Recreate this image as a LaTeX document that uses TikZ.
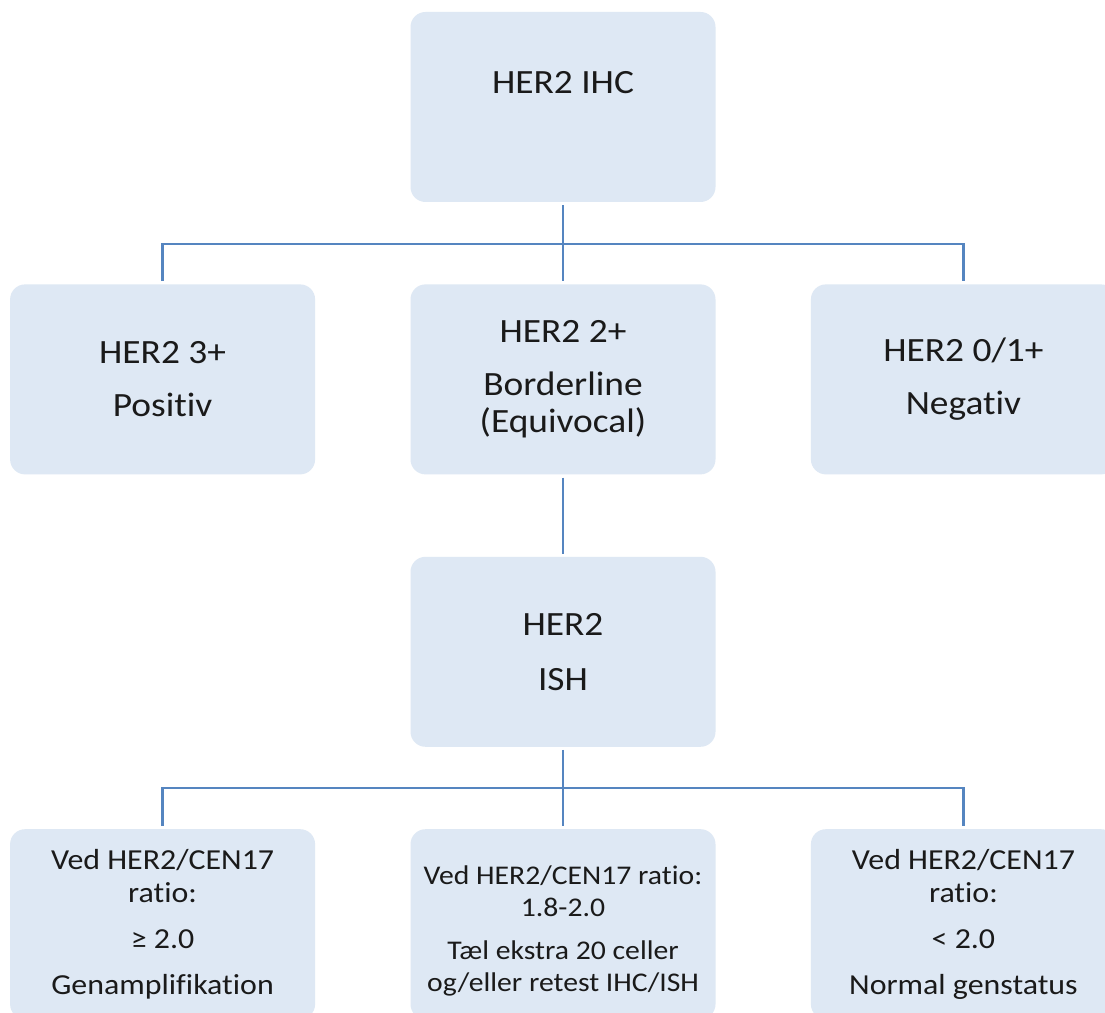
\documentclass[tikz,border=0pt]{standalone}
\usepackage{fontspec}
\setmainfont{Carlito}[FakeStretch=1.1, Ligatures=NoCommon]
\usetikzlibrary{positioning}
\definecolor{boxfill}{HTML}{DEE8F4}
\definecolor{linkblue}{HTML}{5585C0}
\definecolor{textdark}{HTML}{1A1A1A}

\begin{document}
\begin{tikzpicture}[
  x=1pt, y=1pt,
  box/.style={fill=boxfill, rounded corners=15pt, minimum width=305pt,
              minimum height=190pt, inner sep=0pt, align=center,
              text=textdark, font=\fontsize{34}{37}\selectfont},
  ratio/.style={box, font=\fontsize{29}{33}\selectfont},
  label/.style={text=textdark, inner sep=0pt, font=\fontsize{34}{37}\selectfont},
  link/.style={draw=linkblue, line width=2.6pt, shorten <=3pt, shorten >=3pt},
  node distance=82pt and 95pt,
]
  \fill[white] (0,0) rectangle (1105,1012);
  \clip (0,0) rectangle (1105,1012);

  % IHC level
  \node[box] (ihc) at (563,905) {};
  \node[label] (ihctext) at ([yshift=24pt]ihc.center) {HER2 IHC};
  \node[box, below=of ihc] (bord) {HER2 2+\\[16pt]Borderline\\(Equivocal)};
  \node[box, left=of bord] (pos) {HER2 3+\\[16pt]Positiv};
  \node[box, right=of bord] (neg) {HER2 0/1+\\[16pt]Negativ};

  % ISH level
  \node[box, below=of bord] (ish) {HER2\\[18pt]ISH};
  \node[ratio, below=of ish] (ratiomid) {};
  \node[ratio, left=of ratiomid] (ratiohi)
    {Ved HER2/CEN17\\ratio:\\[13pt]≥ 2.0\\[13pt]Genamplifikation};
  \node[ratio, right=of ratiomid] (ratiolo)
    {Ved HER2/CEN17\\ratio:\\[13pt]< 2.0\\[13pt]Normal genstatus};
  \node[label, align=center, font=\fontsize{27}{32}\selectfont] (ratiotext)
    at ([yshift=-7pt]ratiomid.center)
    {Ved HER2/CEN17 ratio:\\1.8-2.0\\[11pt]Tæl ekstra 20 celler\\og/eller retest IHC/ISH};

  % connectors
  \coordinate[below=42pt of ihc.south] (ihcfork);
  \coordinate[below=41pt of ish.south] (ishfork);
  \draw[link] (ihc) -- (bord);
  \draw[link] (pos) |- (ihcfork) -| (neg);
  \draw[link] (bord) -- (ish);
  \draw[link] (ish) -- (ratiomid);
  \draw[link] (ratiohi) |- (ishfork) -| (ratiolo);
\end{tikzpicture}
\end{document}
